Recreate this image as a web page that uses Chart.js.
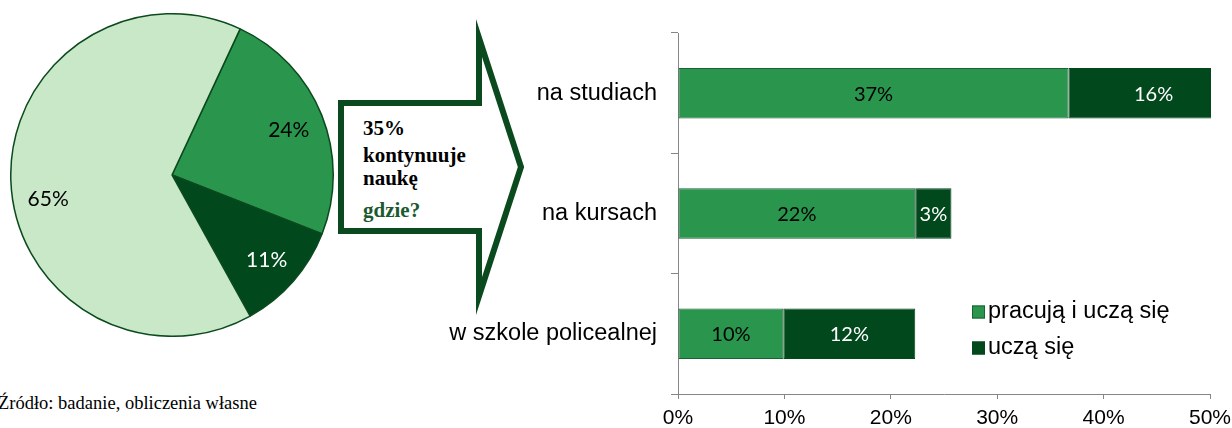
<!DOCTYPE html>
<html>
<head>
<meta charset="utf-8">
<script src="https://cdn.jsdelivr.net/npm/chart.js@4.4.1/dist/chart.umd.min.js"></script>
<style>
  html, body { margin: 0; padding: 0; background: #fff; }
  body { width: 1232px; height: 428px; position: relative; overflow: hidden; }
  #pieBox { position: absolute; left: 10px; top: 13px; width: 324px; height: 324px; }
  #barBox { position: absolute; left: 420px; top: 0; width: 812px; height: 428px; }
  #arrow { position: absolute; left: 0; top: 0; }
  #zrodlo { position: absolute; left: -2px; top: 393px; font: 18.5px "Liberation Serif", "Times New Roman", serif; color: #000; white-space: nowrap; }
</style>
</head>
<body>
<svg id="arrow" width="560" height="340">
  <polygon points="341,103 479,103 479,38 521,167 479,296 479,231 341,231"
           fill="#fff" stroke="#0b4a1e" stroke-width="6" stroke-linejoin="miter" stroke-miterlimit="10"/>
  <g style="font-family: 'Liberation Serif', 'Times New Roman', serif; font-weight: bold; font-size: 21px;">
    <text x="363" y="135" fill="#000">35%</text>
    <text x="363" y="162" fill="#000">kontynuuje</text>
    <text x="363" y="185" fill="#000">naukę</text>
    <text x="363" y="217" fill="#1b5a2f">gdzie?</text>
  </g>
</svg>
<div id="pieBox"><canvas id="pie"></canvas></div>
<div id="barBox"><canvas id="bar"></canvas></div>
<div id="zrodlo">Źródło: badanie, obliczenia własne</div>

<script>
// dane - wykres kołowy
var kategorie_kolo = ['pracują i uczą się', 'uczą się', 'nie kontynuują nauki'];
var wartosci_kolo = [24, 11, 65];
var kolory_kolo = ['#2a954c', '#02481d', '#c9e8c8'];
var kolory_etykiet_kolo = ['#000', '#fff', '#000'];

// dane - wykres słupkowy
var kategorie_slupki = ['na studiach', 'na kursach', 'w szkole policealnej'];
var pracuja_i_ucza = [36.7, 22.3, 9.9];
var ucza_sie = [16, 3.4, 12.4];
var podzialka_x = [0, 10, 20, 30, 40, 50];

var etykietyKola = {
    id: 'etykietyKola',
    afterDatasetsDraw: function(chart) {
        var ctx = chart.ctx;
        var meta = chart.getDatasetMeta(0);
        ctx.save();
        ctx.font = '21px Lato, "Open Sans", sans-serif';
        ctx.textAlign = 'center';
        ctx.textBaseline = 'middle';
        meta.data.forEach(function(arc, i) {
            var p = arc.getProps(['startAngle', 'endAngle', 'outerRadius', 'x', 'y'], true);
            var kat = (p.startAngle + p.endAngle) / 2;
            // największy wycinek: etykieta trochę niżej, jak w Excelu
            if (i === 2) kat -= 0.14;
            var r = p.outerRadius * 0.78;
            ctx.fillStyle = kolory_etykiet_kolo[i];
            ctx.fillText(wartosci_kolo[i] + '%', p.x + Math.cos(kat) * r, p.y + Math.sin(kat) * r + 2);
        });
        ctx.restore();
    }
};

new Chart(document.getElementById('pie'), {
    type: 'pie',
    data: {
        labels: kategorie_kolo,
        datasets: [{
            data: wartosci_kolo,
            backgroundColor: kolory_kolo,
            borderColor: '#0b4a1e',
            borderWidth: 1.5
        }]
    },
    options: {
        responsive: true,
        maintainAspectRatio: false,
        animation: false,
        rotation: 25,
        layout: { padding: 0 },
        plugins: { legend: { display: false }, tooltip: { enabled: false } }
    },
    plugins: [etykietyKola]
});

var etykietySlupkow = {
    id: 'etykietySlupkow',
    afterDatasetsDraw: function(chart) {
        var ctx = chart.ctx;
        ctx.save();
        ctx.font = '20px Lato, "Open Sans", sans-serif';
        ctx.textAlign = 'center';
        ctx.textBaseline = 'middle';
        chart.data.datasets.forEach(function(ds, d) {
            var meta = chart.getDatasetMeta(d);
            meta.data.forEach(function(el, i) {
                var c = el.getCenterPoint();
                ctx.fillStyle = d === 0 ? '#000' : '#fff';
                ctx.fillText(Math.round(ds.data[i]) + '%', c.x, c.y + 1);
            });
        });
        ctx.restore();
    }
};

// legenda rysowana ręcznie wewnątrz obszaru wykresu
var legendaWewnatrz = {
    id: 'legendaWewnatrz',
    afterDraw: function(chart) {
        var ctx = chart.ctx;
        var x = chart.chartArea.left + 294;
        var y = chart.chartArea.top + 279;
        ctx.save();
        ctx.font = '23.5px "Liberation Sans", Arial, sans-serif';
        ctx.textBaseline = 'middle';
        chart.data.datasets.forEach(function(ds, d) {
            var yy = y + d * 36;
            ctx.fillStyle = ds.backgroundColor;
            ctx.fillRect(x, yy - 6.5, 13, 13);
            ctx.strokeStyle = ds.borderColor;
            ctx.lineWidth = 1;
            ctx.strokeRect(x + 0.5, yy - 6, 12, 12);
            ctx.fillStyle = '#000';
            ctx.fillText(ds.label, x + 16, yy);
        });
        ctx.restore();
    }
};

new Chart(document.getElementById('bar'), {
    type: 'bar',
    data: {
        labels: kategorie_slupki,
        datasets: [{
            label: 'pracują i uczą się',
            data: pracuja_i_ucza,
            backgroundColor: '#2a954c',
            borderColor: '#1b6234',
            borderWidth: 1,
            borderSkipped: false,
            clip: 1
        }, {
            label: 'uczą się',
            data: ucza_sie,
            backgroundColor: '#02481d',
            borderColor: '#02481d',
            borderWidth: 1,
            borderSkipped: false,
            clip: 1
        }]
    },
    options: {
        indexAxis: 'y',
        responsive: true,
        maintainAspectRatio: false,
        animation: false,
        layout: { padding: { top: 33, right: 22, left: 0, bottom: 0 } },
        datasets: { bar: { categoryPercentage: 1, barPercentage: 0.42 } },
        scales: {
            x: {
                stacked: true,
                min: podzialka_x[0],
                max: podzialka_x[podzialka_x.length - 1],
                afterBuildTicks: function(axis) {
                    axis.ticks = podzialka_x.map(function(v) { return { value: v }; });
                },
                afterFit: function(axis) {
                    axis.height = 34;
                    // etykieta 50% może wystawać poza obszar wykresu
                    axis.paddingRight = 0;
                    axis.paddingLeft = 0;
                },
                border: { display: true, color: '#868686', width: 1 },
                grid: { drawOnChartArea: false, drawTicks: true, tickLength: 5, color: '#868686' },
                ticks: {
                    padding: 7,
                    color: '#000',
                    font: { family: '"Liberation Sans", Arial, sans-serif', size: 21 },
                    callback: function(v) { return v + '%'; }
                }
            },
            y: {
                stacked: true,
                afterFit: function(axis) { axis.width = 258; },
                border: { display: true, color: '#868686', width: 1 },
                grid: { offset: true, drawOnChartArea: false, drawTicks: true, tickLength: 7, color: '#868686' },
                ticks: {
                    padding: 14,
                    color: '#000',
                    font: { family: '"Liberation Sans", Arial, sans-serif', size: 23.5 }
                }
            }
        },
        plugins: { legend: { display: false }, tooltip: { enabled: false } }
    },
    plugins: [etykietySlupkow, legendaWewnatrz]
});
</script>
</body>
</html>
